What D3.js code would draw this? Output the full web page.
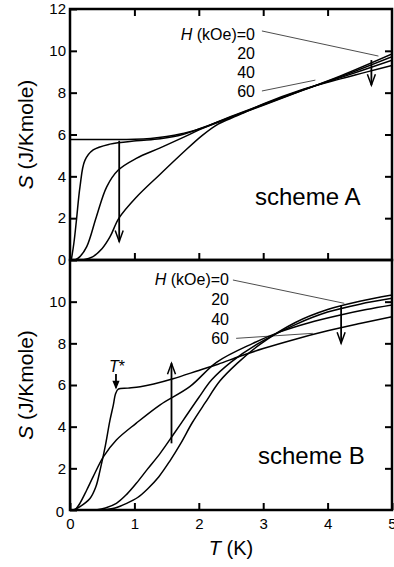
<!DOCTYPE html>
<html>
<head>
<meta charset="utf-8">
<script src="https://cdn.jsdelivr.net/npm/d3@7"></script>
<style>
  html, body { margin: 0; padding: 0; background: #fff; }
  svg { display: block; }
  text { font-family: "Liberation Sans", Arial, Helvetica, sans-serif; fill: #000; }
</style>
</head>
<body>
<svg id="chart" width="394" height="567"></svg>
<script>
// ---------- data ----------
const T_TICKS = [0, 1, 2, 3, 4, 5];
const S_TICKS = [0, 2, 4, 6, 8, 10, 12];
const FIELD_LABELS = ["0", "20", "40", "60"];

// scheme A  (T in K, S in J/K mole)
const A_H0_T  = [0, 0.6, 1.0, 1.25, 1.5, 1.75, 2.0, 2.5, 3.0, 3.6, 4.2, 5.0];
const A_H0_S  = [5.76, 5.76, 5.77, 5.81, 5.9, 6.05, 6.25, 6.82, 7.4, 8.1, 8.8, 9.85];
const A_H20_T = [0.02, 0.06, 0.1, 0.155, 0.23, 0.36, 0.62, 1.03, 1.4, 1.75, 2.0, 2.5, 3.0, 3.6, 4.2, 5.0];
const A_H20_S = [0, 0.8, 1.9, 3.5, 4.75, 5.26, 5.54, 5.7, 5.8, 6.0, 6.26, 6.84, 7.42, 8.1, 8.76, 9.72];
const A_H40_T = [0.08, 0.15, 0.26, 0.41, 0.57, 0.75, 1.03, 1.4, 1.75, 2.05, 2.5, 3.0, 3.6, 4.2, 5.0];
const A_H40_S = [0, 0.15, 0.64, 2.07, 3.5, 4.3, 4.86, 5.36, 5.85, 6.28, 6.86, 7.44, 8.12, 8.72, 9.55];
const A_H60_T = [0.2, 0.35, 0.5, 0.62, 0.76, 1.03, 1.4, 1.76, 2.05, 2.3, 2.6, 3.0, 3.6, 4.2, 5.0];
const A_H60_S = [0, 0.15, 0.55, 1.1, 2.0, 3.0, 4.1, 5.15, 5.95, 6.5, 6.9, 7.46, 8.14, 8.66, 9.3];

// scheme B
const B_H0_T  = [0.5, 0.7, 0.88, 1.05, 1.2, 1.38, 1.55, 1.72, 1.9, 2.1, 2.33, 2.6, 2.95, 3.5, 4.0, 4.5, 5.0];
const B_H0_S  = [0, 0.1, 0.32, 0.6, 1.0, 1.6, 2.35, 3.2, 4.2, 5.15, 6.2, 7.05, 7.95, 9.0, 9.62, 10.02, 10.32];
const B_H20_T = [0.4, 0.55, 0.72, 0.88, 1.03, 1.2, 1.4, 1.6, 1.8, 2.0, 2.2, 2.5, 2.9, 3.5, 4.0, 4.5, 5.0];
const B_H20_S = [0, 0.1, 0.32, 0.75, 1.28, 1.95, 2.72, 3.6, 4.5, 5.4, 6.25, 7.1, 7.95, 8.9, 9.5, 9.88, 10.16];
const B_H40_T = [0.08, 0.15, 0.26, 0.36, 0.52, 0.72, 1.03, 1.4, 1.86, 2.28, 2.84, 3.26, 3.7, 4.2, 4.6, 5.0];
const B_H40_S = [0, 0.3, 0.96, 1.6, 2.56, 3.36, 4.17, 5.05, 5.92, 7.1, 8.0, 8.55, 8.98, 9.36, 9.62, 9.84];
const B_H60_T = [0.05, 0.15, 0.31, 0.4, 0.47, 0.55, 0.62, 0.67, 0.71, 0.75, 0.9, 1.09, 1.3, 1.6, 2.0, 2.3, 2.64, 3.0, 3.5, 4.0, 4.5, 5.0];
const B_H60_S = [0, 0.15, 0.55, 1.1, 1.95, 3.1, 4.3, 5.0, 5.6, 5.8, 5.85, 5.92, 6.05, 6.3, 6.7, 7.0, 7.38, 7.75, 8.2, 8.6, 8.95, 9.28];

// arrows: [T, S_from, S_to]
const A_ARROWS = [[0.764, 5.7, 0.88], [4.68, 9.56, 8.36]];
const B_ARROWS = [[1.576, 3.2, 7.04], [4.21, 9.84, 8.0]];
const B_TSTAR_ARROW = [0.714, 6.53, 5.88];

// leader lines: [T1, S1, T2, S2]
const A_LEADERS = [[2.98, 10.95, 4.79, 9.75], [2.98, 8.08, 3.81, 8.6]];
const B_LEADERS = [[2.53, 11.04, 4.26, 9.92], [2.58, 8.24, 3.77, 8.48]];

// ---------- layout ----------
const svg = d3.select("#chart");
const X0 = 70, X1 = 392, YT = 9, YM = 260, YB = 510;
const x  = d3.scaleLinear().domain([0, 5]).range([X0, X1]);
const yA = d3.scaleLinear().domain([0, 12]).range([YM, YT]);
const yB = d3.scaleLinear().domain([0, 12]).range([YB, YM]);

const zip = (a, b) => a.map((v, i) => [v, b[i]]);

function clip(id, y0, y1) {
  svg.append("defs").append("clipPath").attr("id", id)
    .append("rect").attr("x", X0).attr("y", y0).attr("width", X1 - X0).attr("height", y1 - y0);
}
clip("clipA", YT, YM);
clip("clipB", YM, YB);

function drawCurves(y, series, clipId) {
  const line = d3.line().x(d => x(d[0])).y(d => y(d[1])).curve(d3.curveCatmullRom.alpha(0.5));
  const g = svg.append("g").attr("clip-path", `url(#${clipId})`);
  series.forEach(s => {
    g.append("path").attr("d", line(s)).attr("fill", "none")
      .attr("stroke", "#000").attr("stroke-width", 1.5).attr("stroke-linejoin", "round");
  });
}

drawCurves(yA, [zip(A_H0_T, A_H0_S), zip(A_H20_T, A_H20_S), zip(A_H40_T, A_H40_S), zip(A_H60_T, A_H60_S)], "clipA");
drawCurves(yB, [zip(B_H0_T, B_H0_S), zip(B_H20_T, B_H20_S), zip(B_H40_T, B_H40_S), zip(B_H60_T, B_H60_S)], "clipB");

function leaders(y, list) {
  list.forEach(l => {
    svg.append("line").attr("x1", x(l[0])).attr("y1", y(l[1])).attr("x2", x(l[2])).attr("y2", y(l[3]))
      .attr("stroke", "#000").attr("stroke-width", 0.7);
  });
}
leaders(yA, A_LEADERS);
leaders(yB, B_LEADERS);

function arrow(y, a, hw, hl, filled) {
  const xp = x(a[0]), y1 = y(a[1]), y2 = y(a[2]);
  const dir = y2 > y1 ? -1 : 1;
  svg.append("line").attr("x1", xp).attr("y1", y1).attr("x2", xp).attr("y2", y2)
    .attr("stroke", "#000").attr("stroke-width", 1.8);
  const pts = [[xp - hw, y2 + dir * hl], [xp, y2], [xp + hw, y2 + dir * hl]];
  svg.append("path").attr("d", d3.line()(pts) + (filled ? "Z" : ""))
    .attr("fill", filled ? "#000" : "none").attr("stroke", "#000")
    .attr("stroke-width", 1.5).attr("stroke-linejoin", "miter");
}
A_ARROWS.forEach(a => arrow(yA, a, 4, 11, false));
B_ARROWS.forEach(a => arrow(yB, a, 4, 11, false));
arrow(yB, B_TSTAR_ARROW, 2.5, 6, true);

// ---------- axes ----------
const TICK = 7;
function styleAxis(g) {
  g.select(".domain").remove();
  g.selectAll(".tick line").attr("stroke", "#000").attr("stroke-width", 2);
  g.selectAll(".tick text").attr("font-size", 15).attr("fill", "#000")
    .attr("font-family", '"Liberation Sans", Arial, sans-serif');
}
const innerT = [1, 2, 3, 4];
const innerS = [2, 4, 6, 8, 10];
const fmt = d3.format("d");

// top panel
svg.append("g").attr("transform", `translate(${X0},0)`)
  .call(d3.axisLeft(yA).tickValues(S_TICKS).tickFormat(fmt).tickSize(-TICK).tickSizeOuter(0).tickPadding(4)).call(styleAxis);
svg.append("g").attr("transform", `translate(${X1},0)`)
  .call(d3.axisRight(yA).tickValues(innerS).tickSize(-TICK).tickSizeOuter(0).tickFormat("")).call(styleAxis);
svg.append("g").attr("transform", `translate(0,${YT})`)
  .call(d3.axisTop(x).tickValues(innerT).tickSize(-TICK).tickSizeOuter(0).tickFormat("")).call(styleAxis);
svg.append("g").attr("transform", `translate(0,${YM})`)
  .call(d3.axisBottom(x).tickValues(innerT).tickSize(-TICK).tickSizeOuter(0).tickFormat("")).call(styleAxis);

// bottom panel
const leftB = svg.append("g").attr("transform", `translate(${X0},0)`)
  .call(d3.axisLeft(yB).tickValues(S_TICKS.slice(0, -1)).tickFormat(fmt).tickSize(-TICK).tickSizeOuter(0).tickPadding(4)).call(styleAxis);
leftB.selectAll(".tick text").filter(d => d === 0).attr("dy", "0.45em").attr("x", -6);
svg.append("g").attr("transform", `translate(${X1},0)`)
  .call(d3.axisRight(yB).tickValues(innerS).tickSize(-TICK).tickSizeOuter(0).tickFormat("")).call(styleAxis);
svg.append("g").attr("transform", `translate(0,${YB})`)
  .call(d3.axisBottom(x).tickValues(T_TICKS).tickFormat(fmt).tickSize(-TICK).tickSizeOuter(0).tickPadding(8)).call(styleAxis);

// frames
[[YT, YM], [YM, YB]].forEach(([a, b]) => {
  svg.append("rect").attr("x", X0).attr("y", a).attr("width", X1 - X0).attr("height", b - a)
    .attr("fill", "none").attr("stroke", "#000").attr("stroke-width", 2.5);
});

// ---------- labels ----------
function yLabel(cy) {
  const t = svg.append("text").attr("transform", `translate(33,${cy}) rotate(-90)`)
    .attr("text-anchor", "middle").attr("font-size", 21);
  t.append("tspan").attr("font-style", "italic").text("S");
  t.append("tspan").text(" (J/Kmole)");
}
yLabel((YT + YM) / 2);
yLabel((YM + YB) / 2);

const xl = svg.append("text").attr("x", (X0 + X1) / 2).attr("y", 555)
  .attr("text-anchor", "middle").attr("font-size", 20);
xl.append("tspan").attr("font-style", "italic").text("T");
xl.append("tspan").text(" (K)");

function legend(xr, baselines) {
  FIELD_LABELS.forEach((lab, i) => {
    const t = svg.append("text").attr("x", xr).attr("y", baselines[i])
      .attr("text-anchor", "end").attr("font-size", 16);
    if (i === 0) {
      t.append("tspan").attr("font-style", "italic").text("H");
      t.append("tspan").text(" (kOe)=" + lab);
    } else {
      t.text(lab);
    }
  });
}
legend(255, [40, 58.7, 77.7, 96.7]);
legend(229, [285, 304.7, 324.5, 344]);

svg.append("text").attr("x", 255).attr("y", 205).attr("font-size", 24).text("scheme A");
svg.append("text").attr("x", 258).attr("y", 464).attr("font-size", 24).text("scheme B");

const ts = svg.append("text").attr("x", 109).attr("y", 371.7).attr("font-size", 16);
ts.append("tspan").attr("font-style", "italic").text("T");
ts.append("tspan").text("*");
</script>
</body>
</html>
